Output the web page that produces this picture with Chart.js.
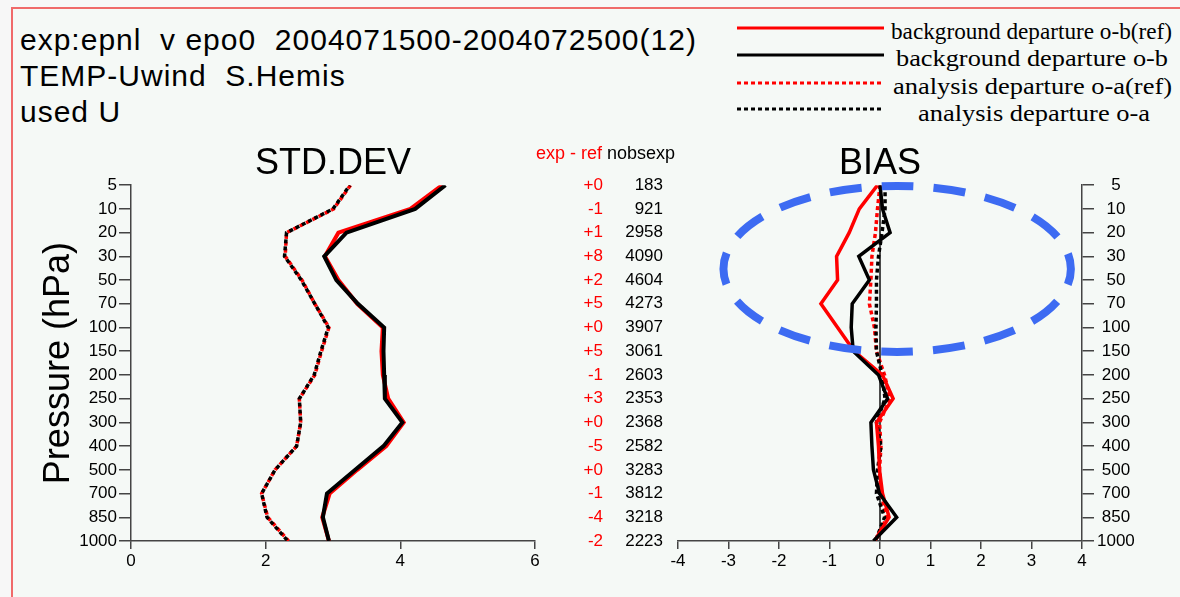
<!DOCTYPE html>
<html>
<head>
<meta charset="utf-8">
<script src="https://cdn.jsdelivr.net/npm/chart.js@4.4.1/dist/chart.umd.min.js"></script>
<style>
  html, body { margin: 0; padding: 0; width: 1180px; height: 597px; overflow: hidden; background: #f7f7f7; }
  #frame { position: absolute; left: 11px; top: 7px; width: 1169px; height: 590px; background: #f5f9f6;
           border-left: 2px solid #f06a6a; border-top: 2px solid #f06a6a; box-sizing: border-box; }
  .hdr { position: absolute; left: 20px; font-family: "Liberation Sans", Arial, sans-serif; font-size: 30px;
         letter-spacing: 1px; white-space: pre; color: #000; line-height: 36px; }
  canvas { position: absolute; }
  #legend { position: absolute; left: 720px; top: 10px; }
</style>
</head>
<body>
<div id="frame"></div>
<div class="hdr" style="top:22px">exp:epnl  v epo0  2004071500-2004072500(12)</div>
<div class="hdr" style="top:58px">TEMP-Uwind  S.Hemis</div>
<div class="hdr" style="top:94px">used U</div>

<svg id="legend" width="460" height="120" font-family="'Liberation Serif', 'Times New Roman', serif" font-size="23">
  <line x1="17" y1="18" x2="164" y2="18" stroke="#ff0000" stroke-width="3"/>
  <line x1="17" y1="45" x2="164" y2="45" stroke="#000000" stroke-width="3"/>
  <line x1="17" y1="73" x2="164" y2="73" stroke="#ff0000" stroke-width="3" stroke-dasharray="4 3"/>
  <line x1="17" y1="99" x2="164" y2="99" stroke="#000000" stroke-width="3" stroke-dasharray="4 3"/>
  <text x="171" y="21" dominant-baseline="central" textLength="281" lengthAdjust="spacingAndGlyphs">background departure o-b(ref)</text>
  <text x="176" y="48" dominant-baseline="central" textLength="272" lengthAdjust="spacingAndGlyphs">background departure o-b</text>
  <text x="173" y="76" dominant-baseline="central" textLength="279" lengthAdjust="spacingAndGlyphs">analysis departure o-a(ref)</text>
  <text x="198" y="103" dominant-baseline="central" textLength="232" lengthAdjust="spacingAndGlyphs">analysis departure o-a</text>
</svg>

<canvas id="stdChart" width="680" height="455" style="left:0px;top:142px"></canvas>
<canvas id="biasChart" width="540" height="455" style="left:640px;top:142px"></canvas>

<script>
// pressure levels (tick labels, top to bottom)
const levels = ['5', '10', '20', '30', '50', '70', '100', '150', '200', '250', '300', '400', '500', '700', '850', '1000'];

// STD.DEV
const stdObRef = [4.62, 4.15, 3.08, 2.88, 3.08, 3.36, 3.74, 3.72, 3.74, 3.82, 4.05, 3.79, 3.36, 2.95, 2.84, 2.94];
const stdObExp = [4.67, 4.22, 3.20, 2.87, 3.05, 3.37, 3.76, 3.75, 3.76, 3.77, 4.03, 3.75, 3.33, 2.91, 2.85, 2.94];
const stdOaRef = [3.26, 3.01, 2.31, 2.29, 2.54, 2.73, 2.94, 2.83, 2.73, 2.50, 2.52, 2.46, 2.14, 1.94, 2.03, 2.34];
const stdOaExp = [3.25, 3.00, 2.31, 2.28, 2.53, 2.73, 2.93, 2.82, 2.72, 2.50, 2.52, 2.46, 2.14, 1.94, 2.02, 2.33];

// BIAS
const biasObRef = [-0.05, -0.41, -0.61, -0.86, -0.84, -1.17, -0.84, -0.51, 0.05, 0.26, -0.07, -0.03, -0.01, 0.05, 0.18, -0.11];
const biasObExp = [0.00, 0.05, 0.20, -0.42, -0.21, -0.55, -0.57, -0.53, -0.03, 0.15, -0.18, -0.16, -0.13, -0.01, 0.33, -0.13];
const biasOaRef = [0.00, -0.05, -0.09, -0.16, -0.18, -0.21, -0.11, -0.07, 0.09, 0.20, -0.01, 0.02, -0.01, 0.02, 0.13, -0.08];
const biasOaExp = [0.10, 0.10, 0.04, -0.03, -0.07, -0.07, -0.08, -0.07, 0.04, 0.10, -0.07, 0.02, -0.05, -0.07, 0.09, -0.09];
const biasZero = levels.map(() => 0);

// middle columns
const expMinusRef = ['+0', '-1', '+1', '+8', '+2', '+5', '+0', '+5', '-1', '+3', '+0', '-5', '+0', '-1', '-4', '-2'];
const nobsExp = [183, 921, 2958, 4090, 4604, 4273, 3907, 3061, 2603, 2353, 2368, 2582, 3283, 3812, 3218, 2223];

// highlighted region in the bias panel (in axis units)
const highlight = { x: 0.34, y: 3.53, rx: 3.44, ry: 3.5 };

Chart.defaults.font.family = '"Liberation Sans", Arial, sans-serif';
Chart.defaults.color = '#000';

const toPoints = arr => arr.map((v, i) => ({ x: v, y: i }));

function line(values, color, dotted, width) {
    return {
        data: toPoints(values),
        borderColor: color,
        borderWidth: width || 3.5,
        borderDash: dotted ? [4, 3] : [],
        showLine: true,
        pointRadius: 0,
        fill: false,
        tension: 0
    };
}

const axisColor = '#444';

function levelAxis(position, width) {
    return {
        type: 'linear',
        position: position,
        min: 0,
        max: levels.length - 1,
        reverse: true,
        afterBuildTicks: s => { s.ticks = levels.map((_, i) => ({ value: i })); },
        afterFit: s => { s.width = width; },
        ticks: {
            callback: v => levels[v],
            font: { size: 17 },
            padding: position === 'left' ? 2 : 3,
            crossAlign: position === 'left' ? 'near' : 'center',
            autoSkip: false
        },
        grid: { drawOnChartArea: false, tickLength: 12, color: axisColor, lineWidth: 1.5 },
        border: { color: axisColor, width: 1.5 }
    };
}

function valueAxis(min, max, step) {
    return {
        type: 'linear',
        position: 'bottom',
        min: min,
        max: max,
        afterFit: s => { s.height = 56; },
        ticks: { stepSize: step, font: { size: 17 }, padding: 2 },
        grid: { drawOnChartArea: false, tickLength: 8, color: axisColor, lineWidth: 1.5 },
        border: { color: axisColor, width: 1.5 }
    };
}

function panelTitle(text) {
    return {
        display: true,
        text: text,
        fullSize: false,
        color: '#000',
        font: { size: 36, weight: 'normal' },
        padding: { top: 0, bottom: 0 }
    };
}

// numbers column between the panels
const columnsPlugin = {
    id: 'columns',
    afterDraw(chart) {
        const ctx = chart.ctx;
        const ys = chart.scales.y;
        ctx.save();
        ctx.font = '18px "Liberation Sans", Arial, sans-serif';
        ctx.textBaseline = 'middle';
        ctx.textAlign = 'left';
        ctx.fillStyle = '#ff0000';
        ctx.fillText('exp - ref', 536, 154 - 142);
        const w = ctx.measureText('exp - ref ').width;
        ctx.fillStyle = '#000';
        ctx.fillText('nobsexp', 536 + w, 154 - 142);
        ctx.font = '17px "Liberation Sans", Arial, sans-serif';
        ctx.textAlign = 'right';
        levels.forEach((_, i) => {
            const y = ys.getPixelForValue(i);
            ctx.fillStyle = '#ff0000';
            ctx.fillText(expMinusRef[i], 603, y);
            ctx.fillStyle = '#000';
            ctx.fillText(String(nobsExp[i]), 663, y);
        });
        ctx.restore();
    }
};

const highlightPlugin = {
    id: 'highlight',
    afterDatasetsDraw(chart) {
        const ctx = chart.ctx;
        const xs = chart.scales.x, ys = chart.scales.y;
        const cx = xs.getPixelForValue(highlight.x);
        const cy = ys.getPixelForValue(highlight.y);
        const rx = Math.abs(xs.getPixelForValue(highlight.x + highlight.rx) - cx);
        const ry = Math.abs(ys.getPixelForValue(highlight.y + highlight.ry) - cy);
        ctx.save();
        ctx.beginPath();
        ctx.ellipse(cx, cy, rx, ry, 0, 0, Math.PI * 2);
        ctx.setLineDash([32, 20]);
        ctx.lineDashOffset = 16;
        ctx.lineWidth = 8;
        ctx.strokeStyle = '#3d6bf2';
        ctx.stroke();
        ctx.restore();
    }
};

const stdDots = line(stdOaExp, '#000', true);
stdDots.borderDashOffset = 3;

new Chart(document.getElementById('stdChart'), {
    type: 'scatter',
    data: {
        datasets: [
            line(stdObExp, '#000', false, 4),
            line(stdObRef, '#ff0000', false, 4),
            stdDots,
            line(stdOaRef, '#ff0000', true)
        ]
    },
    options: {
        responsive: false,
        animation: false,
        devicePixelRatio: 1,
        layout: { padding: { left: 0, right: 145, top: 0, bottom: 0 } },
        scales: {
            x: valueAxis(0, 6, 2),
            y: Object.assign(levelAxis('left', 131), {
                title: {
                    display: true,
                    text: 'Pressure (hPa)',
                    color: '#000',
                    font: { size: 36 },
                    padding: { top: 37, bottom: 0 }
                }
            })
        },
        plugins: { legend: { display: false }, tooltip: { enabled: false }, title: panelTitle('STD.DEV') }
    },
    plugins: [columnsPlugin]
});

new Chart(document.getElementById('biasChart'), {
    type: 'scatter',
    data: {
        datasets: [
            line(biasObExp, '#000', false),
            line(biasObRef, '#ff0000', false),
            line(biasOaExp, '#000', true),
            line(biasOaRef, '#ff0000', true),
            line(biasZero, '#333', false, 1)
        ]
    },
    options: {
        responsive: false,
        animation: false,
        devicePixelRatio: 1,
        layout: { padding: { left: 38, right: 0, top: 0, bottom: 0 } },
        scales: {
            x: valueAxis(-4, 4, 1),
            y: levelAxis('right', 98)
        },
        plugins: { legend: { display: false }, tooltip: { enabled: false }, title: panelTitle('BIAS') }
    },
    plugins: [highlightPlugin]
});
</script>
</body>
</html>
